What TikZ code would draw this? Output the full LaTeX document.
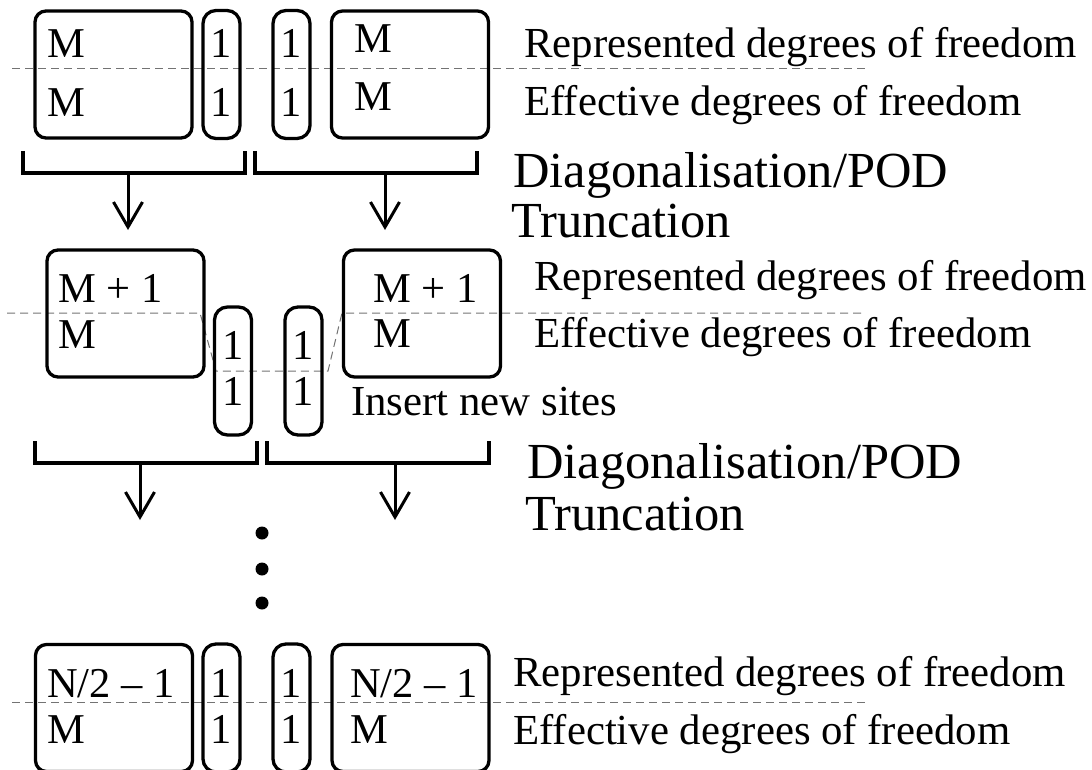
\documentclass[tikz,border=0pt]{standalone}
\usepackage{fontspec}
\setmainfont{Liberation Serif}
\usetikzlibrary{arrows.meta}

\tikzset{
  blockbox/.style={draw, line width=3.3pt, rounded corners=11pt, inner sep=0pt, outer sep=0pt},
  bigblock/.style={blockbox, minimum width=157pt, minimum height=127pt},
  siteblock/.style={blockbox, rounded corners=13pt, minimum width=37pt, minimum height=128pt},
  boxtxt/.style={anchor=base west, inner sep=0pt, font=\fontsize{42.5}{48}\selectfont},
  sitetxt/.style={anchor=base, inner sep=0pt, font=\fontsize{42.5}{48}\selectfont},
  lbl/.style={anchor=base west, inner sep=0pt, font=\fontsize{42.8}{48}\selectfont},
  biglbl/.style={anchor=base west, inner sep=0pt, font=\fontsize{50.5}{56}\selectfont},
  cutline/.style={draw=black!55, line width=1pt, dash pattern=on 8pt off 5pt},
  bracket/.style={draw, line width=3.3pt, line join=miter},
  stepdown/.style={draw, line width=3pt, -{Straight Barb[length=25pt, width=29pt, line width=3pt]}},
  dot/.style={circle, fill, inner sep=0pt, minimum size=13pt}
}

\begin{document}
\begin{tikzpicture}[x=1pt, y=-1pt]
\useasboundingbox (0,0) rectangle (1092,770);

% ---------- first stage ----------
\draw[cutline] (12,69) -- (866,69);
\node[bigblock]  (A1) at (113.5,74.5) {};
\node[siteblock] (a1) at (221.5,74.5) {};
\node[siteblock] (b1) at (291.5,74.5) {};
\node[bigblock]  (B1) at (410,74.5) {};

\node[boxtxt]  (A1r) at (47,58)  {M};
\node[boxtxt]  (A1e) at (47,117) {M};
\node[sitetxt] (a1r) at (221.5,58)  {1};
\node[sitetxt] (a1e) at (221.5,117) {1};
\node[sitetxt] (b1r) at (291.5,58)  {1};
\node[sitetxt] (b1e) at (291.5,117) {1};
\node[boxtxt]  (B1r) at (354,53)  {M};
\node[boxtxt]  (B1e) at (354,111) {M};

\node[lbl] (rep1) at (524,58)  {Represented degrees of freedom};
\node[lbl] (eff1) at (524,116) {Effective degrees of freedom};

\draw[bracket] (23,151) -- (23,173) -- (245,173) -- (245,151);
\draw[bracket] (255,151) -- (255,173) -- (477,173) -- (477,151);
\coordinate (s1L) at (128,173);
\coordinate (e1L) at (128,230);
\coordinate (s1R) at (385,173);
\coordinate (e1R) at (385,230);
\draw[stepdown] (s1L) -- (e1L);
\draw[stepdown] (s1R) -- (e1R);

\node[biglbl] (diag1)  at (513,188) {Diagonalisation/POD};
\node[biglbl] (trunc1) at (511,237) {Truncation};

% ---------- second stage ----------
\draw[cutline] (7,313) -- (200,313) -- (216,371) -- (328,371) -- (342,313) -- (862,313);
\node[bigblock]  (A2) at (125.5,313.5) {};
\node[siteblock] (a2) at (233,371) {};
\node[siteblock] (b2) at (303.5,371) {};
\node[bigblock]  (B2) at (422,313.5) {};

\node[boxtxt]  (A2r) at (58,302) {M + 1};
\node[boxtxt]  (A2e) at (58,348) {M};
\node[sitetxt] (a2r) at (233,359) {1};
\node[sitetxt] (a2e) at (233,405) {1};
\node[sitetxt] (b2r) at (303.5,359) {1};
\node[sitetxt] (b2e) at (303.5,405) {1};
\node[boxtxt]  (B2r) at (373,302) {M + 1};
\node[boxtxt]  (B2e) at (373,347) {M};

\node[lbl] (rep2) at (534,290) {Represented degrees of freedom};
\node[lbl] (eff2) at (534,347) {Effective degrees of freedom};
\node[lbl] (ins)  at (351,415) {Insert new sites};

\draw[bracket] (35,441) -- (35,463) -- (257,463) -- (257,441);
\draw[bracket] (267,441) -- (267,463) -- (489,463) -- (489,441);
\coordinate (s2L) at (140,463);
\coordinate (e2L) at (140,520);
\coordinate (s2R) at (395,463);
\coordinate (e2R) at (395,520);
\draw[stepdown] (s2L) -- (e2L);
\draw[stepdown] (s2R) -- (e2R);

\node[biglbl] (diag2)  at (527,478) {Diagonalisation/POD};
\node[biglbl] (trunc2) at (525,530) {Truncation};

% ---------- continuation ----------
\node[dot] (d1) at (262,533) {};
\node[dot] (d2) at (262,569) {};
\node[dot] (d3) at (262,603) {};

% ---------- final stage ----------
\draw[cutline] (12,702) -- (866,702);
\node[bigblock]  (A3) at (114,708) {};
\node[siteblock] (a3) at (221.5,708) {};
\node[siteblock] (b3) at (291.5,708) {};
\node[bigblock]  (B3) at (410.5,708) {};

\node[boxtxt]  (A3r) at (47,697) {N/2 – 1};
\node[boxtxt]  (A3e) at (47,743) {M};
\node[sitetxt] (a3r) at (221.5,697) {1};
\node[sitetxt] (a3e) at (221.5,743) {1};
\node[sitetxt] (b3r) at (291.5,697) {1};
\node[sitetxt] (b3e) at (291.5,743) {1};
\node[boxtxt]  (B3r) at (350,697) {N/2 – 1};
\node[boxtxt]  (B3e) at (350,743) {M};

\node[lbl] (rep3) at (513,686) {Represented degrees of freedom};
\node[lbl] (eff3) at (513,744) {Effective degrees of freedom};
\end{tikzpicture}
\end{document}
